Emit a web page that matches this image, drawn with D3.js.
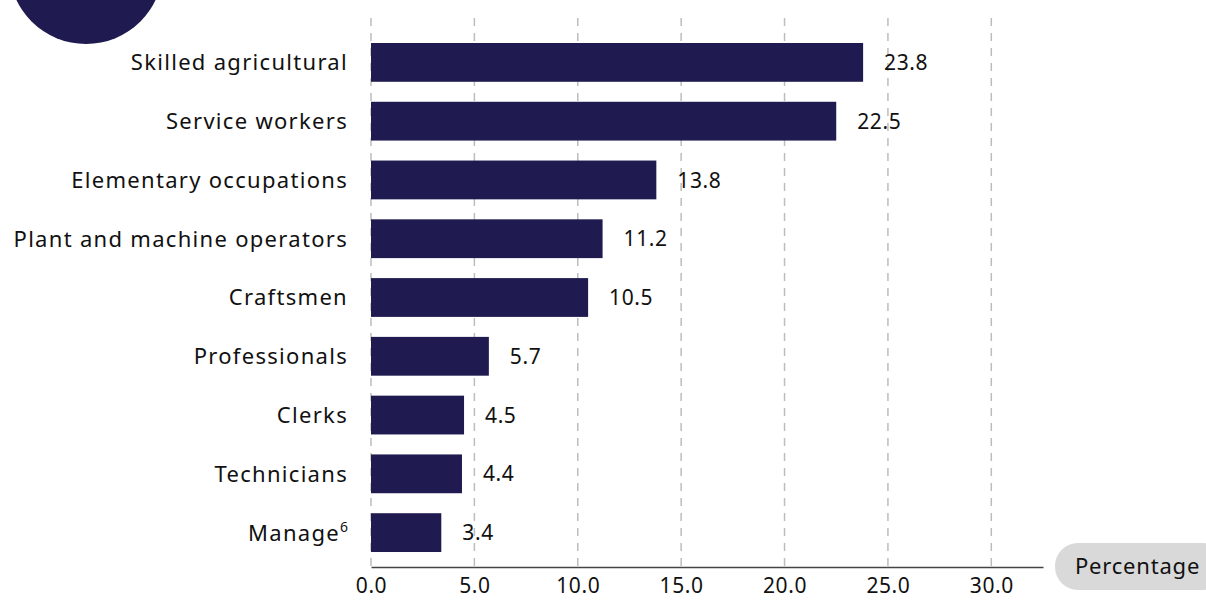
<!DOCTYPE html>
<html><head><meta charset="utf-8">
<script src="https://cdn.jsdelivr.net/npm/d3@7"></script>
<style>body{margin:0;background:#fff}svg{display:block}text{font-family:"Noto Sans",sans-serif;fill:#111}</style>
</head><body>
<svg id="c" width="1206" height="601"></svg>
<script>
const categories = ["Skilled agricultural","Service workers","Elementary occupations","Plant and machine operators","Craftsmen","Professionals","Clerks","Technicians","Manage"];
const values = [23.8,22.5,13.8,11.2,10.5,5.7,4.5,4.4,3.4];
const tickValues = [0,5,10,15,20,25,30];
const axisTitle = "Percentage";

const svg = d3.select("#c");
const navy = "#1f1a4f";
const x = d3.scaleLinear().domain([0,32.5]).range([371,1043]);
const y = d3.scaleBand().domain(categories).range([33,562]).paddingInner(0.34).paddingOuter(0.17);

svg.append("circle").attr("cx",86).attr("cy",-33).attr("r",77).attr("fill",navy);

svg.append("g").selectAll("line").data(tickValues).join("line")
  .attr("x1",d=>x(d)).attr("x2",d=>x(d)).attr("y1",18).attr("y2",567)
  .attr("stroke","#bdbdbd").attr("stroke-width",1.5).attr("stroke-dasharray","8,7");

svg.append("g").selectAll("rect").data(values).join("rect")
  .attr("x",x(0)).attr("y",(d,i)=>y(categories[i]))
  .attr("width",d=>x(d)-x(0)).attr("height",y.bandwidth()).attr("fill",navy);

svg.append("g").selectAll("text").data(values).join("text")
  .attr("x",d=>x(d)+21).attr("y",(d,i)=>y(categories[i])+y.bandwidth()/2)
  .attr("dy","0.36em").attr("font-size",21).attr("letter-spacing",0.6).text(d=>d.toFixed(1));

const cl = svg.append("g").selectAll("text").data(categories).join("text")
  .attr("x",348).attr("y",d=>y(d)+y.bandwidth()/2).attr("dy","0.36em")
  .attr("text-anchor","end").attr("font-size",22).attr("letter-spacing",1.3);
cl.each(function(d){
  const t=d3.select(this);
  if(d==="Manage"){ t.text("Manage"); t.append("tspan").attr("dy","-0.6em").attr("font-size",14).attr("letter-spacing",0).text("6"); }
  else t.text(d);
});

const ax = svg.append("g").attr("transform","translate(0,567)")
  .call(d3.axisBottom(x).tickValues(tickValues).tickFormat(d3.format(".1f")).tickSize(0).tickPadding(11));
ax.select(".domain").attr("stroke","#444").attr("stroke-width",1.5);
ax.selectAll("text").attr("font-size",21).attr("letter-spacing",0.6).attr("font-family","Noto Sans").attr("fill","#111");

svg.append("rect").attr("x",1055).attr("y",543).attr("width",170).attr("height",47).attr("rx",23).attr("fill","#d9d9d9");
svg.append("text").attr("x",1075).attr("y",566).attr("dy","0.36em").attr("font-size",22).attr("letter-spacing",0.8).text(axisTitle);
</script>
</body></html>
